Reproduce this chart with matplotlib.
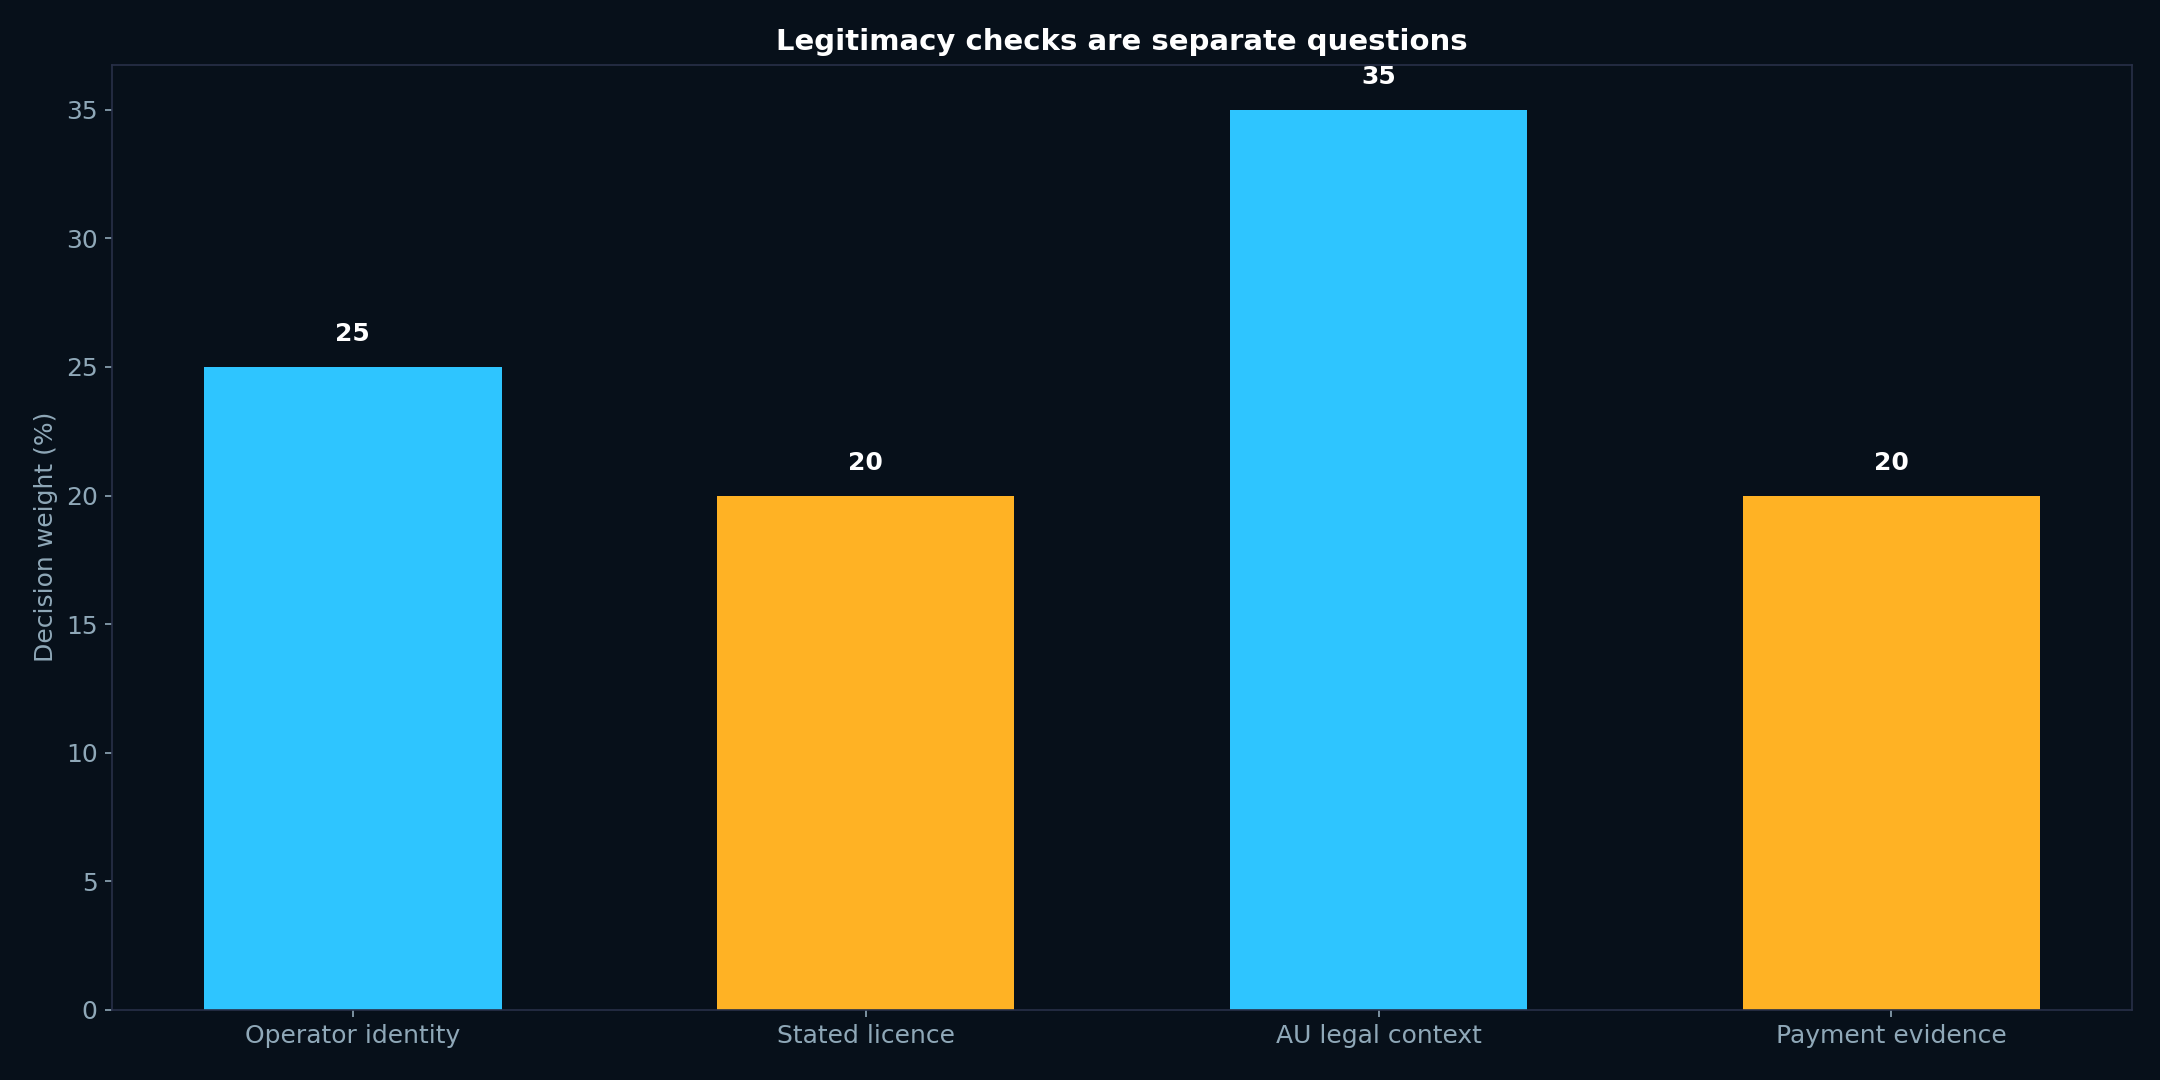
import matplotlib
matplotlib.use("Agg")
import matplotlib.pyplot as plt

# Data
categories = ["Operator identity", "Stated licence", "AU legal context", "Payment evidence"]
weights = [25, 20, 35, 20]
bar_colors = ["#2ec5ff", "#ffb224", "#2ec5ff", "#ffb224"]

BG = "#07101a"
SPINE = "#283048"
MUTED = "#8fa8b8"

fig, ax = plt.subplots(figsize=(14.4, 7.2), dpi=150)
fig.patch.set_facecolor(BG)
ax.set_facecolor(BG)

x = range(len(categories))
ax.bar(x, weights, width=0.58, color=bar_colors)

for xi, w in zip(x, weights):
    ax.text(xi, w + 0.8, str(w), ha="center", va="bottom",
            color="white", fontsize=12, fontweight="bold")

ax.set_xticks(list(x))
ax.set_xticklabels(categories)
ax.set_ylim(0, max(weights) * 1.05)
ax.set_ylabel("Decision weight (%)", color=MUTED, fontsize=12)
ax.set_title("Legitimacy checks are separate questions", color="white",
             fontsize=14, fontweight="bold", pad=7)

ax.tick_params(colors=MUTED, labelsize=12)
for s in ax.spines.values():
    s.set_color(SPINE)

plt.subplots_adjust(left=0.052, right=0.987, top=0.94, bottom=0.065)
fig.savefig("out.png", facecolor=BG)
